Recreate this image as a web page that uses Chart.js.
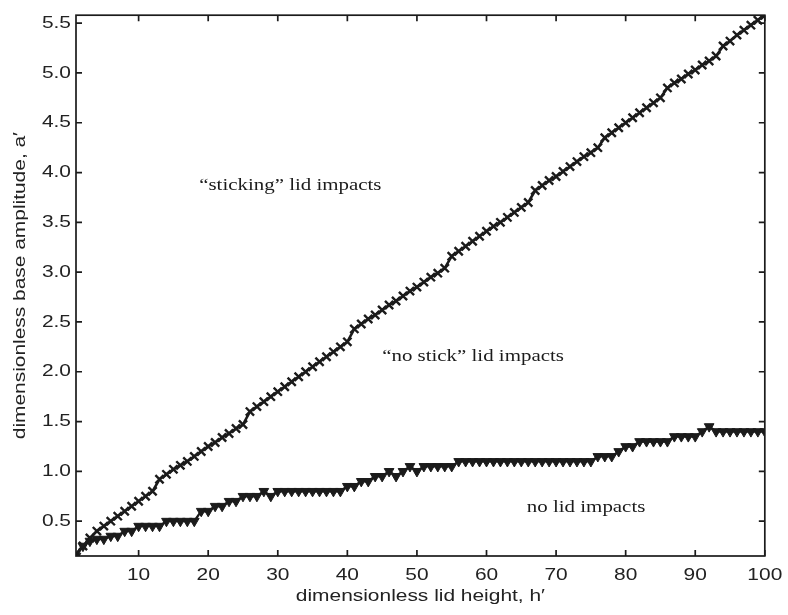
<!DOCTYPE html>
<html lang="en">
<head>
    <meta charset="UTF-8">
    <title>Lid impact regimes</title>
    <script src="https://cdn.jsdelivr.net/npm/chart.js"></script>
    <style>
        html, body { margin: 0; padding: 0; background: #fff; }
        canvas { display: block; }
    </style>
</head>
<body>
    <canvas id="regimeChart" width="788" height="615"></canvas>
    <script>
        // Lid height h' (1..100)
        const lidHeight = [
            1, 2, 3, 4, 5, 6, 7, 8, 9, 10, 11, 12, 13, 14, 15, 16, 17, 18, 19, 20,
            21, 22, 23, 24, 25, 26, 27, 28, 29, 30, 31, 32, 33, 34, 35, 36, 37, 38, 39, 40,
            41, 42, 43, 44, 45, 46, 47, 48, 49, 50, 51, 52, 53, 54, 55, 56, 57, 58, 59, 60,
            61, 62, 63, 64, 65, 66, 67, 68, 69, 70, 71, 72, 73, 74, 75, 76, 77, 78, 79, 80,
            81, 82, 83, 84, 85, 86, 87, 88, 89, 90, 91, 92, 93, 94, 95, 96, 97, 98, 99, 100
        ];

        // Boundary between "sticking" and "no stick" impacts (x markers)
        const stickBoundary = [
            0.17, 0.25, 0.33, 0.40, 0.45, 0.50, 0.55, 0.60, 0.65, 0.70,
            0.75, 0.80, 0.92, 0.97, 1.02, 1.06, 1.10, 1.15, 1.20, 1.25,
            1.29, 1.34, 1.38, 1.43, 1.47, 1.60, 1.65, 1.70, 1.75, 1.80,
            1.85, 1.90, 1.95, 2.00, 2.05, 2.10, 2.15, 2.20, 2.25, 2.30,
            2.43, 2.48, 2.53, 2.57, 2.62, 2.67, 2.71, 2.76, 2.81, 2.85,
            2.90, 2.95, 2.99, 3.04, 3.16, 3.21, 3.26, 3.31, 3.36, 3.41,
            3.46, 3.50, 3.55, 3.60, 3.65, 3.70, 3.82, 3.87, 3.92, 3.96,
            4.01, 4.06, 4.11, 4.16, 4.20, 4.25, 4.35, 4.40, 4.45, 4.50,
            4.55, 4.60, 4.65, 4.70, 4.75, 4.85, 4.90, 4.94, 4.99, 5.03,
            5.08, 5.12, 5.17, 5.27, 5.32, 5.38, 5.43, 5.48, 5.53, 5.58
        ];

        // Boundary between "no stick" and no lid impacts (triangles)
        const impactBoundary = [
            0.15, 0.25, 0.30, 0.32, 0.32, 0.35, 0.35, 0.40, 0.40, 0.45,
            0.45, 0.45, 0.45, 0.50, 0.50, 0.50, 0.50, 0.50, 0.60, 0.60,
            0.65, 0.65, 0.70, 0.70, 0.75, 0.75, 0.75, 0.80, 0.75, 0.80,
            0.80, 0.80, 0.80, 0.80, 0.80, 0.80, 0.80, 0.80, 0.80, 0.85,
            0.85, 0.90, 0.90, 0.95, 0.95, 1.00, 0.95, 1.00, 1.05, 1.00,
            1.05, 1.05, 1.05, 1.05, 1.05, 1.10, 1.10, 1.10, 1.10, 1.10,
            1.10, 1.10, 1.10, 1.10, 1.10, 1.10, 1.10, 1.10, 1.10, 1.10,
            1.10, 1.10, 1.10, 1.10, 1.10, 1.15, 1.15, 1.15, 1.20, 1.25,
            1.25, 1.30, 1.30, 1.30, 1.30, 1.30, 1.35, 1.35, 1.35, 1.35,
            1.40, 1.45, 1.40, 1.40, 1.40, 1.40, 1.40, 1.40, 1.40, 1.40
        ];

        const xTicks = [10, 20, 30, 40, 50, 60, 70, 80, 90, 100];
        const yTicks = [0.5, 1.0, 1.5, 2.0, 2.5, 3.0, 3.5, 4.0, 4.5, 5.0, 5.5];

        // Region labels, placed in data units (left edge, vertical middle)
        const regionLabels = [
            { text: '\u201csticking\u201d lid impacts', x: 18.7, y: 3.87 },
            { text: '\u201cno stick\u201d lid impacts', x: 45.0, y: 2.15 },
            { text: 'no lid impacts', x: 65.8, y: 0.64 }
        ];

        const ink = '#1b1b1b';
        const sans = 'Liberation Sans, Arial, Helvetica, sans-serif';
        const serif = 'Liberation Serif, Times New Roman, serif';

        const ctx = document.getElementById('regimeChart').getContext('2d');

        // All lettering on this figure is set wide: stretch each string along
        // its own baseline, keeping the anchor point where Chart.js put it
        const textStretch = 1.23;
        const baseFillText = CanvasRenderingContext2D.prototype.fillText;
        ctx.fillText = function (text, x, y) {
            this.save();
            this.translate(x, y);
            this.scale(textStretch, 1);
            baseFillText.call(this, text, 0, 0);
            this.restore();
        };

        // Box round the plot with inward ticks on all four sides, plus region text
        const framePlugin = {
            id: 'frame',
            afterDatasetsDraw(chart) {
                const c = chart.ctx;
                const a = chart.chartArea;
                const xs = chart.scales.x, ys = chart.scales.y;
                const len = 6;
                c.save();
                c.strokeStyle = ink;
                c.lineWidth = 1.7;
                c.strokeRect(a.left, a.top, a.right - a.left, a.bottom - a.top);
                c.beginPath();
                xTicks.forEach(v => {
                    const px = xs.getPixelForValue(v);
                    c.moveTo(px, a.bottom); c.lineTo(px, a.bottom - len);
                    c.moveTo(px, a.top); c.lineTo(px, a.top + len);
                });
                yTicks.forEach(v => {
                    const py = ys.getPixelForValue(v);
                    c.moveTo(a.left, py); c.lineTo(a.left + len, py);
                    c.moveTo(a.right, py); c.lineTo(a.right - len, py);
                });
                c.stroke();

                c.fillStyle = ink;
                c.font = '17px ' + serif;
                c.textAlign = 'left';
                c.textBaseline = 'middle';
                regionLabels.forEach(l => {
                    c.fillText(l.text, xs.getPixelForValue(l.x), ys.getPixelForValue(l.y));
                });
                c.restore();
            }
        };

        const chart = new Chart(ctx, {
            type: 'line',
            data: {
                datasets: [
                    {
                        label: 'sticking boundary',
                        data: lidHeight.map((h, i) => ({ x: h, y: stickBoundary[i] })),
                        borderColor: ink,
                        borderWidth: 2.6,
                        pointStyle: 'crossRot',
                        pointRadius: 5.8,
                        pointBorderWidth: 2.4,
                        pointBorderColor: ink,
                        pointBackgroundColor: ink,
                        tension: 0
                    },
                    {
                        label: 'impact boundary',
                        data: lidHeight.map((h, i) => ({ x: h, y: impactBoundary[i] })),
                        borderColor: ink,
                        borderWidth: 2.4,
                        pointStyle: 'triangle',
                        rotation: 180,
                        pointRadius: 5.6,
                        pointBorderWidth: 1,
                        pointBorderColor: ink,
                        pointBackgroundColor: ink,
                        tension: 0
                    }
                ]
            },
            options: {
                responsive: false,
                animation: false,
                devicePixelRatio: 1,
                layout: { padding: { left: 0, top: 11, right: 21, bottom: 0 } },
                plugins: {
                    legend: { display: false },
                    tooltip: { enabled: false }
                },
                scales: {
                    x: {
                        type: 'linear',
                        min: 1,
                        max: 100,
                        afterBuildTicks: s => { s.ticks = xTicks.map(v => ({ value: v })); },
                        afterFit: s => { s.height = 59; },
                        grid: { drawOnChartArea: false, drawTicks: false },
                        border: { display: false },
                        ticks: {
                            padding: 9,
                            color: '#222',
                            font: { family: sans, size: 17 },
                            maxRotation: 0,
                            autoSkip: false
                        },
                        title: {
                            display: true,
                            text: 'dimensionless lid height, h\u2032',
                            color: '#222',
                            font: { family: sans, size: 17 },
                            padding: { top: 8, bottom: 8 }
                        }
                    },
                    y: {
                        type: 'linear',
                        min: 0.15,
                        max: 5.58,
                        afterBuildTicks: s => { s.ticks = yTicks.map(v => ({ value: v })); },
                        afterFit: s => { s.width = 76; },
                        grid: { drawOnChartArea: false, drawTicks: false },
                        border: { display: false },
                        ticks: {
                            padding: 5,
                            color: '#222',
                            font: { family: sans, size: 17 },
                            autoSkip: false,
                            callback: v => v.toFixed(1)
                        },
                        title: {
                            display: true,
                            text: 'dimensionless base amplitude, a\u2032',
                            color: '#222',
                            font: { family: sans, size: 17 },
                            padding: { top: 10, bottom: 10 }
                        }
                    }
                }
            },
            plugins: [framePlugin]
        });
    </script>
</body>
</html>
